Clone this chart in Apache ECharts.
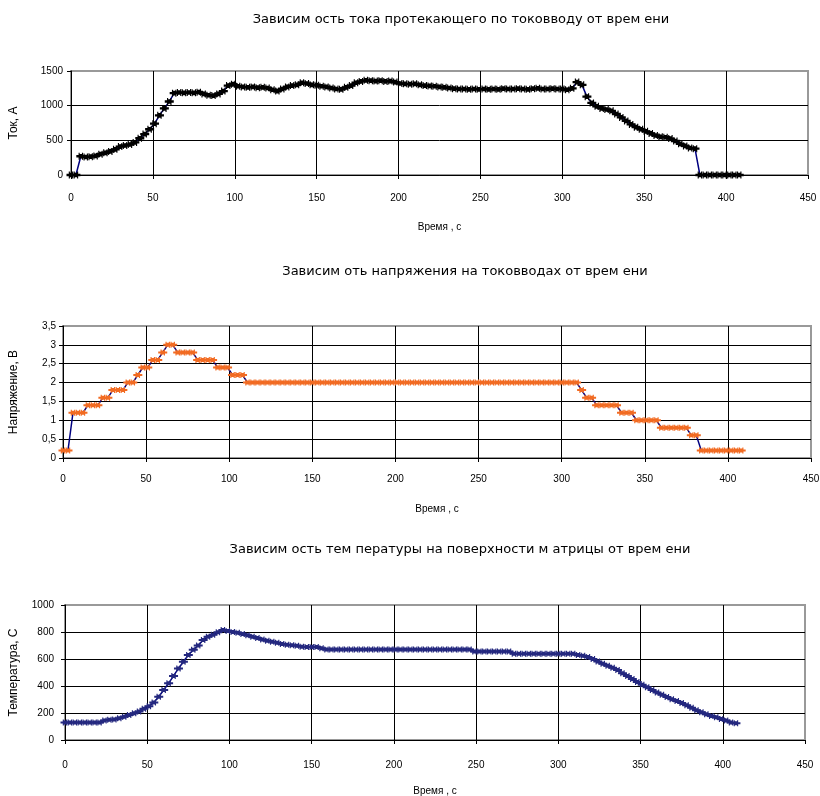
<!DOCTYPE html>
<html>
<head>
<meta charset="utf-8">
<script src="https://cdn.jsdelivr.net/npm/echarts@6/dist/echarts.min.js"></script>
<style>
  html, body { margin: 0; padding: 0; background: #fff; }
  #main { width: 820px; height: 796px; }
</style>
</head>
<body>
<div id="main"></div>
<script>
// время, с
var time = [
  0, 3, 6, 9, 12, 15, 18, 21, 24, 27, 30, 33, 36, 39, 42, 45, 48, 51, 54, 57,
  60, 63, 66, 69, 72, 75, 78, 81, 84, 87, 90, 93, 96, 99, 102, 105, 108, 111, 114, 117,
  120, 123, 126, 129, 132, 135, 138, 141, 144, 147, 150, 153, 156, 159, 162, 165, 168, 171, 174, 177,
  180, 183, 186, 189, 192, 195, 198, 201, 204, 207, 210, 213, 216, 219, 222, 225, 228, 231, 234, 237,
  240, 243, 246, 249, 252, 255, 258, 261, 264, 267, 270, 273, 276, 279, 282, 285, 288, 291, 294, 297,
  300, 303, 306, 309, 312, 315, 318, 321, 324, 327, 330, 333, 336, 339, 342, 345, 348, 351, 354, 357,
  360, 363, 366, 369, 372, 375, 378, 381, 384, 387, 390, 393, 396, 399, 402, 405, 408
];
// ток, А
var current = [
  0, 0, 270, 260, 265, 275, 300, 320, 340, 370, 410, 425, 440, 470, 530, 590, 660, 740, 860, 960,
  1060, 1180, 1190, 1185, 1190, 1185, 1195, 1170, 1150, 1145, 1170, 1210, 1290, 1310, 1280, 1270, 1265, 1270, 1260, 1265,
  1255, 1230, 1210, 1240, 1270, 1290, 1300, 1330, 1320, 1300, 1295, 1280, 1270, 1255, 1240, 1235, 1265, 1290, 1330, 1350,
  1365, 1360, 1355, 1360, 1350, 1355, 1340, 1320, 1315, 1310, 1315, 1300, 1290, 1285, 1280, 1270, 1265, 1255, 1245, 1240,
  1240, 1235, 1240, 1235, 1240, 1235, 1240, 1235, 1245, 1240, 1240, 1245, 1240, 1235, 1245, 1250, 1240, 1240, 1245, 1240,
  1240, 1230, 1250, 1340, 1300, 1130, 1040, 990, 960, 945, 925, 880, 830, 780, 730, 690, 660, 630, 600, 570,
  550, 545, 525, 490, 450, 420, 390, 380, 0, 0, 0, 0, 0, 0, 0, 0, 0
];
// напряжение, В
var voltage = [
  0.2, 0.2, 1.2, 1.2, 1.2, 1.4, 1.4, 1.4, 1.6, 1.6, 1.8, 1.8, 1.8, 2.0, 2.0, 2.2, 2.4, 2.4, 2.6, 2.6,
  2.8, 3.0, 3.0, 2.8, 2.8, 2.8, 2.8, 2.6, 2.6, 2.6, 2.6, 2.4, 2.4, 2.4, 2.2, 2.2, 2.2, 2.0, 2.0, 2.0,
  2.0, 2.0, 2.0, 2.0, 2.0, 2.0, 2.0, 2.0, 2.0, 2.0, 2.0, 2.0, 2.0, 2.0, 2.0, 2.0, 2.0, 2.0, 2.0, 2.0,
  2.0, 2.0, 2.0, 2.0, 2.0, 2.0, 2.0, 2.0, 2.0, 2.0, 2.0, 2.0, 2.0, 2.0, 2.0, 2.0, 2.0, 2.0, 2.0, 2.0,
  2.0, 2.0, 2.0, 2.0, 2.0, 2.0, 2.0, 2.0, 2.0, 2.0, 2.0, 2.0, 2.0, 2.0, 2.0, 2.0, 2.0, 2.0, 2.0, 2.0,
  2.0, 2.0, 2.0, 2.0, 1.8, 1.6, 1.6, 1.4, 1.4, 1.4, 1.4, 1.4, 1.2, 1.2, 1.2, 1.0, 1.0, 1.0, 1.0, 1.0,
  0.8, 0.8, 0.8, 0.8, 0.8, 0.8, 0.6, 0.6, 0.2, 0.2, 0.2, 0.2, 0.2, 0.2, 0.2, 0.2, 0.2
];
// температура, С
var temperature = [
  130, 130, 130, 130, 130, 130, 130, 130, 145, 150, 152, 162, 172, 185, 198, 212, 232, 250, 278, 320,
  370, 420, 475, 530, 580, 630, 668, 700, 740, 765, 780, 798, 815, 808, 800, 795, 785, 776, 765, 755,
  745, 735, 728, 720, 712, 705, 702, 698, 690, 688, 688, 688, 680, 670, 670, 670, 670, 670, 670, 670,
  670, 670, 670, 670, 670, 670, 670, 670, 670, 670, 670, 670, 670, 670, 670, 670, 670, 670, 670, 670,
  670, 670, 670, 655, 655, 655, 655, 655, 655, 655, 655, 638, 638, 638, 638, 638, 638, 638, 638, 638,
  638, 638, 638, 638, 630, 625, 615, 600, 582, 565, 550, 535, 518, 495, 475, 452, 430, 410, 390, 370,
  352, 335, 318, 302, 288, 275, 258, 238, 220, 205, 190, 178, 168, 155, 145, 130, 125
];

var titles = [
  'Зависим ость тока протекающего по токовводу от врем ени',
  'Зависим оть напряжения на токовводах от врем ени',
  'Зависим ость тем пературы на поверхности м атрицы от врем ени'
];
var yNames = ['Ток, А', 'Напряжение, В', 'Температура, С'];
var xName = 'Время , с';

function pairs(vals) {
  return time.map(function (t, i) { return [t, vals[i]]; });
}

var font = 'Liberation Sans, Arial, sans-serif';
var titleFont = 'DejaVu Sans, sans-serif';
// маркер в виде "звёздочки" как в Excel
var star = 'path://M2,0H3V1H5V0H6V2H8V4H6V6H5V5H3V6H2V4H0V2H2Z';

function xAxis(idx, gap, lblMargin) {
  return {
    type: 'value', gridIndex: idx, min: 0, max: 450, interval: 50,
    name: xName, nameLocation: 'middle', nameGap: gap,
    nameTextStyle: { color: '#000', fontSize: 10, fontFamily: font },
    axisLine: { lineStyle: { color: '#000', width: 1 } },
    axisTick: { show: true, length: 4, lineStyle: { color: '#000' } },
    axisLabel: { color: '#000', fontSize: 10, fontFamily: font, margin: lblMargin },
    splitLine: { show: true, showMaxLine: false, lineStyle: { color: '#000', width: 1 } }
  };
}

function yAxis(idx, max, interval, gap, lblMargin) {
  return {
    type: 'value', gridIndex: idx, min: 0, max: max, interval: interval,
    name: yNames[idx], nameLocation: 'middle', nameGap: gap,
    nameTextStyle: { color: '#000', fontSize: 12, fontFamily: font },
    axisLine: { show: true, lineStyle: { color: '#000', width: 1 } },
    axisTick: { show: true, length: 4, lineStyle: { color: '#000' } },
    axisLabel: {
      color: '#000', fontSize: 10, fontFamily: font, margin: lblMargin,
      formatter: function (v) { return String(v).replace('.', ','); }
    },
    splitLine: { show: true, showMaxLine: false, lineStyle: { color: '#000', width: 1 } }
  };
}

function series(idx, vals, markColor, size) {
  return {
    type: 'line', xAxisIndex: idx, yAxisIndex: idx,
    data: pairs(vals),
    showAllSymbol: true,
    symbol: star, symbolSize: size,
    itemStyle: { color: markColor },
    lineStyle: { color: '#000080', width: 1.5 },
    z: 3
  };
}

var titleStyle = { fontSize: 13, fontWeight: 'normal', color: '#000', fontFamily: titleFont };

var myChart = echarts.init(document.getElementById('main'));
myChart.setOption({
  animation: false,
  backgroundColor: '#fff',
  title: [
    { text: titles[0], left: 456, top: 8, textAlign: 'center', textStyle: titleStyle },
    { text: titles[1], left: 460, top: 260, textAlign: 'center', textStyle: titleStyle },
    { text: titles[2], left: 455, top: 538, textAlign: 'center', textStyle: titleStyle }
  ],
  grid: [
    { left: 71, right: 12, top: 71, height: 104, show: true, borderColor: '#999', borderWidth: 2,
      backgroundColor: '#fff', outerBoundsMode: 'none' },
    { left: 63, right: 9, top: 326, height: 132, show: true, borderColor: '#999', borderWidth: 2,
      backgroundColor: '#fff', outerBoundsMode: 'none' },
    { left: 65, right: 15, top: 605, height: 135, show: true, borderColor: '#999', borderWidth: 2,
      backgroundColor: '#fff', outerBoundsMode: 'none' }
  ],
  xAxis: [xAxis(0, 47, 18), xAxis(1, 46, 16), xAxis(2, 46, 20)],
  yAxis: [yAxis(0, 1500, 500, 51, 8), yAxis(1, 3.5, 0.5, 43, 7), yAxis(2, 1000, 200, 45, 11)],
  series: [
    series(0, current, '#000', [9, 7]),
    series(1, voltage, '#f26b22', [9, 6]),
    series(2, temperature, '#24287f', [9, 6])
  ]
});
</script>
</body>
</html>
